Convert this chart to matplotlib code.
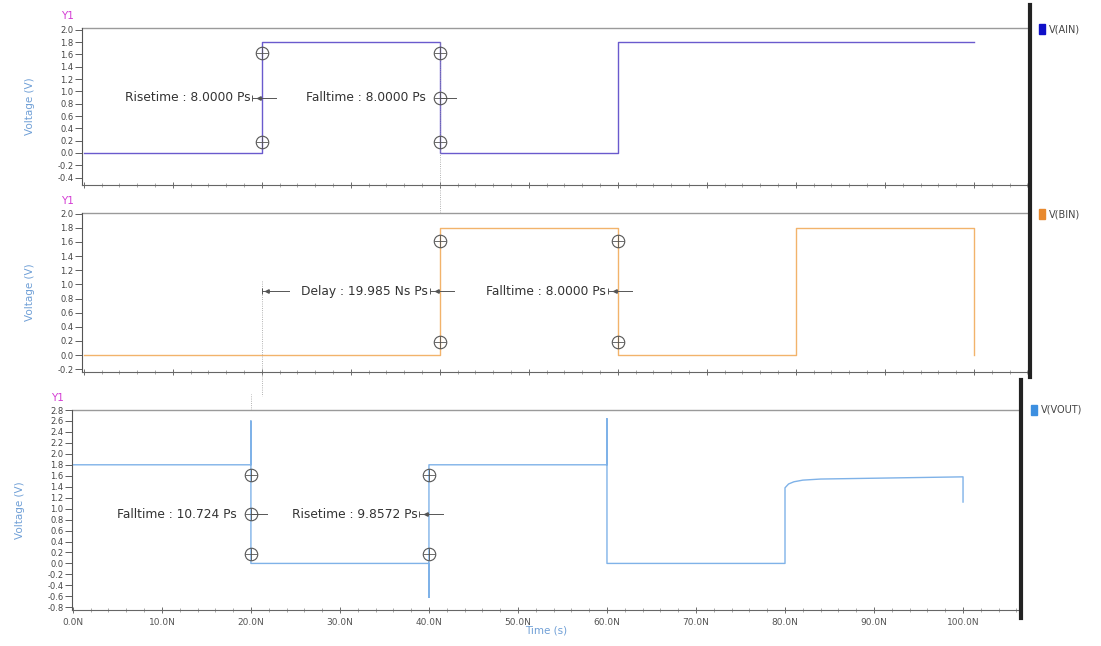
import numpy as np
import matplotlib
matplotlib.use('Agg')
import matplotlib.pyplot as plt
from matplotlib.lines import Line2D
from matplotlib.patches import Rectangle
from matplotlib.ticker import MultipleLocator, FuncFormatter
from matplotlib.transforms import offset_copy

# ---- data (time in ns, voltage in V) ----
ain_t = [0, 20, 20, 40, 40, 60, 60, 100]
ain_v = [0.0, 0.0, 1.8, 1.8, 0.0, 0.0, 1.8, 1.8]

bin_t = [0, 40, 40, 60, 60, 80, 80, 100, 100]
bin_v = [0.0, 0.0, 1.8, 1.8, 0.0, 0.0, 1.8, 1.8, 0.0]

vout_t = [0, 20, 20, 20, 40, 40, 40, 60, 60, 60, 80, 80, 80.4, 81.0, 82.0, 84.0, 88.0, 92.0, 96.0, 100, 100]
vout_v = [1.8, 1.8, 2.6, 0.0, 0.0, -0.62, 1.8, 1.8, 2.64, 0.0, 0.0, 1.38, 1.45, 1.49, 1.52, 1.54, 1.55, 1.56, 1.57, 1.58, 1.12]

xticks = [0, 10, 20, 30, 40, 50, 60, 70, 80, 90, 100]
xtick_labels = ['0.0N', '10.0N', '20.0N', '30.0N', '40.0N', '50.0N',
                '60.0N', '70.0N', '80.0N', '90.0N', '100.0N']

names = ['V(AIN)', 'V(BIN)', 'V(VOUT)']
line_colors = ['#6a5acd', '#f2b36b', '#7fb2e8']
legend_colors = ['#1010c8', '#e8892e', '#3d8fe0']

W, H = 1101, 646
fig = plt.figure(figsize=(W / 100, H / 100), dpi=100)
fig.patch.set_facecolor('white')


def px_axes(left, right, top, bottom):
    return fig.add_axes([left / W, 1 - bottom / H, (right - left) / W, (bottom - top) / H])


def style(ax, ylo, yhi, ystep, ytop_tick):
    ax.set_ylim(ylo, yhi)
    ax.set_yticks(np.round(np.arange(ytop_tick, ylo, -ystep), 2))
    ax.yaxis.set_major_formatter(FuncFormatter(lambda v, p: '%.1f' % (round(v, 2) + 0.0)))
    for s in ['top', 'right']:
        ax.spines[s].set_visible(False)
    ax.spines['left'].set_color('#555555')
    ax.spines['left'].set_linewidth(0.8)
    ax.spines['bottom'].set_color('#666666')
    ax.spines['bottom'].set_linewidth(0.8)
    ax.axhline(yhi, color='#9a9a9a', lw=1.0, clip_on=False)
    ax.tick_params(axis='y', labelsize=6, colors='#444444', length=5, width=0.6, pad=1)
    ax.tick_params(axis='x', which='major', direction='inout', length=5, width=0.6, colors='#555555', labelsize=6.5)
    ax.tick_params(axis='x', which='minor', direction='inout', length=3, width=0.5, colors='#888888')
    ax.xaxis.set_minor_locator(MultipleLocator(2))
    ax.set_xticks(xticks)
    ax.set_ylabel('Voltage (V)', color='#6f9fd6', fontsize=7.5, labelpad=4)
    ax.yaxis.set_label_coords(-0.05, 0.5)
    t = offset_copy(ax.transAxes, fig=fig, x=-8, y=7, units='dots')
    ax.text(0, 1.0, 'Y1', transform=t, ha='right', va='bottom', fontsize=7.5, color='#d43cd4')


def mark(ax, x, y):
    ax.plot(x, y, marker='o', ms=9, mfc='none', mec='#555555', mew=0.8, zorder=5)
    ax.plot(x, y, marker='+', ms=9, mec='#555555', mew=0.6, zorder=5)


def measure(ax, x, y, label):
    ax.plot([x - 1.1, x + 1.6], [y, y], color='#555555', lw=0.7, zorder=4)
    ax.plot(x - 1.1, y, marker='|', ms=5, color='#555555', mew=0.7)
    ax.plot(x - 0.3, y, marker='<', ms=2.5, color='#555555')
    ax.text(x - 1.3, y, label, ha='right', va='center', fontsize=8.8, color='#333333')


# ---- panel 1: V(AIN) ----
ax1 = px_axes(82, 1030, 28, 185)
ax1.plot(ain_t, ain_v, color=line_colors[0], lw=1.0)
ax1.set_xlim(-0.2, 106.3)
style(ax1, -0.52, 2.03, 0.2, 2.0)
ax1.set_xticklabels([])
ax1.plot([40, 40], [1.8, -1.45], color='#999999', lw=0.6, ls=':', clip_on=False)
mark(ax1, 20, 1.62)
mark(ax1, 20, 0.18)
measure(ax1, 20, 0.9, 'Risetime : 8.0000 Ps')
mark(ax1, 40, 1.62)
mark(ax1, 40, 0.9)
mark(ax1, 40, 0.18)
ax1.text(40 - 1.6, 0.9, 'Falltime : 8.0000 Ps', ha='right', va='center', fontsize=8.8, color='#333333')
ax1.plot([40, 41.8], [0.9, 0.9], color='#555555', lw=0.7)

# ---- panel 2: V(BIN) ----
ax2 = px_axes(82, 1030, 213, 372)
ax2.plot(bin_t, bin_v, color=line_colors[1], lw=1.0)
ax2.set_xlim(-0.2, 106.3)
style(ax2, -0.24, 2.01, 0.2, 2.0)
ax2.set_xticklabels([])
ax2.plot([20, 20], [1.05, -0.58], color='#999999', lw=0.6, ls=':', clip_on=False)
mark(ax2, 40, 1.62)
mark(ax2, 40, 0.18)
mark(ax2, 60, 1.62)
mark(ax2, 60, 0.18)
ax2.plot([20, 23], [0.9, 0.9], color='#555555', lw=0.7)
ax2.plot(20, 0.9, marker='|', ms=5, color='#555555', mew=0.7)
ax2.plot(20.6, 0.9, marker='<', ms=2.5, color='#555555')
measure(ax2, 40, 0.9, 'Delay : 19.985 Ns Ps')
measure(ax2, 60, 0.9, 'Falltime : 8.0000 Ps')

# ---- panel 3: V(VOUT) ----
ax3 = px_axes(72, 1020, 410, 610)
ax3.plot(vout_t, vout_v, color=line_colors[2], lw=1.0)
ax3.set_xlim(-0.1, 106.4)
style(ax3, -0.85, 2.8, 0.2, 2.8)
ax3.set_xticklabels(xtick_labels)
ax3.set_xlabel('Time (s)', color='#6f9fd6', fontsize=7.5, labelpad=-1)
ax3.plot([20, 20], [2.8, 3.1], color='#999999', lw=0.6, ls=':', clip_on=False)
mark(ax3, 20, 1.62)
mark(ax3, 20, 0.9)
mark(ax3, 20, 0.18)
ax3.text(20 - 1.6, 0.9, 'Falltime : 10.724 Ps', ha='right', va='center', fontsize=8.8, color='#333333')
ax3.plot([20, 21.8], [0.9, 0.9], color='#555555', lw=0.7)
mark(ax3, 40, 1.62)
mark(ax3, 40, 0.18)
measure(ax3, 40, 0.9, 'Risetime : 9.8572 Ps')

# thick right borders
fig.add_artist(Line2D([1030 / W, 1030 / W], [1 - 5 / H, 1 - 377 / H], color='#222222', lw=3))
fig.add_artist(Line2D([1021 / W, 1021 / W], [1 - 380 / H, 1 - 618 / H], color='#222222', lw=3))

# legend entries
for (lx, ly, name, col) in [(1039, 29, names[0], legend_colors[0]),
                            (1039, 214, names[1], legend_colors[1]),
                            (1031, 410, names[2], legend_colors[2])]:
    fig.add_artist(Rectangle((lx / W, 1 - (ly + 5) / H), 6 / W, 10 / H,
                             transform=fig.transFigure, color=col))
    fig.text((lx + 10) / W, 1 - ly / H, name, ha='left', va='center', fontsize=7, color='#444444')

fig.savefig('out.png', dpi=100)
